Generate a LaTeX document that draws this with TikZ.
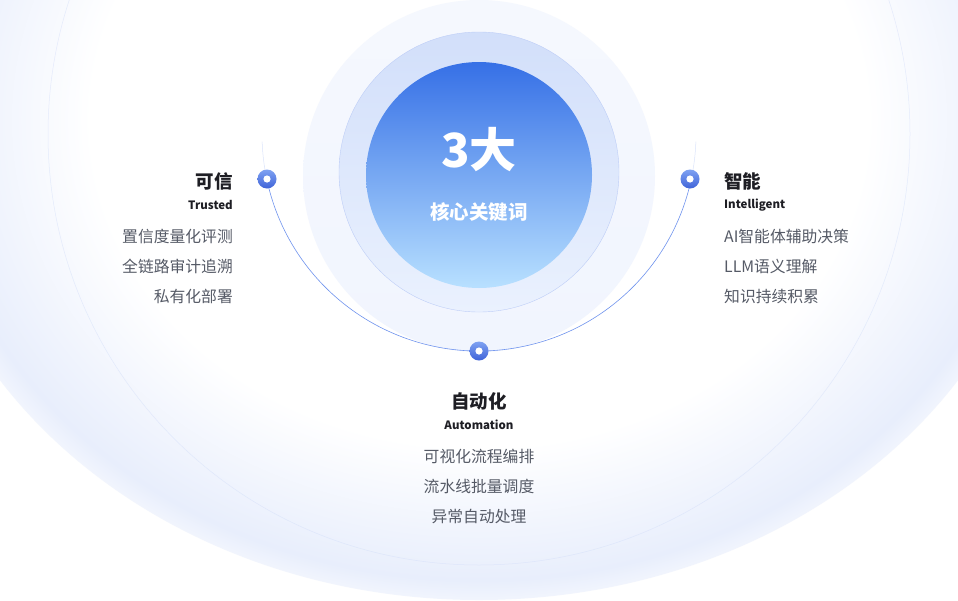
\documentclass[tikz,border=0pt]{standalone}
\usepackage{fontspec}
\setmainfont{Noto Sans CJK SC}
\usetikzlibrary{shadings}
\definecolor{glowblue}{HTML}{E8EEFC}
\definecolor{halo}{HTML}{F1F5FE}
\definecolor{ringtop}{HTML}{D2DFFA}
\definecolor{ringbot}{HTML}{EAF1FE}
\definecolor{coretop}{HTML}{3670E6}
\definecolor{corebot}{HTML}{B8E0FF}
\definecolor{arcblue}{HTML}{6F93EE}
\definecolor{dotblue}{HTML}{3F63D8}
\definecolor{dotlight}{HTML}{7FA2F2}
\definecolor{itemgray}{HTML}{555A66}
\definecolor{titleblack}{HTML}{1E1E24}
\pgfdeclareradialshading{glow}{\pgfpoint{0bp}{0bp}}{color(0bp)=(white); color(17bp)=(white); color(24bp)=(glowblue); color(25bp)=(glowblue!60!white); color(50bp)=(white)}
\tikzset{
  title/.style={font=\fontsize{18.5}{20}\selectfont\bfseries, text=titleblack, inner sep=0pt},
  sub/.style={font=\fontsize{11.5}{13}\selectfont\bfseries, text=titleblack, inner sep=0pt},
  item/.style={font=\fontsize{15.8}{17}\selectfont, text=itemgray, inner sep=0pt},
  dotring/.style={circle, minimum size=19pt, inner sep=0pt, top color=dotlight, bottom color=dotblue},
}
\newcommand{\mydot}[2]{%
  \node[dotring] (#1) at #2 {};
  \fill[white] (#1.center) circle (3.6pt);}
\begin{document}
\begin{tikzpicture}[x=1pt,y=-1pt]
\useasboundingbox (0,0) rectangle (958,600);
\fill[white] (0,0) rectangle (958,600);
\begin{scope}
\clip (0,0) rectangle (958,600);
\shade[shading=glow] (479,120) ellipse [x radius=570, y radius=480];
\draw[glowblue!80!arcblue, line width=0.5pt, opacity=0.5] (479,134) circle (431);
% halo
\shade[top color=halo!70!white, bottom color=halo] (479,176) circle (176);
\shade[top color=ringtop, bottom color=ringbot, draw=arcblue!45, line width=0.4pt] (479,172) circle (140);
\shade[top color=coretop, bottom color=corebot] (479,175) circle (113);
\end{scope}
\node[font=\fontsize{47}{48}\selectfont\bfseries, text=white] (big) at (479,150) {3大};
\node[font=\fontsize{19.5}{21}\selectfont\bfseries, text=white] (kw) at (479,212) {核心关键词};
% arc
\draw[arcblue, line width=0.6pt] (479,134) ++(168:217) arc[start angle=168, end angle=12, radius=217];
\draw[arcblue!25, line width=0.5pt] (479,134) ++(168:217) arc[start angle=168, end angle=178, radius=217];
\draw[arcblue!25, line width=0.5pt] (479,134) ++(12:217) arc[start angle=12, end angle=2, radius=217];
\mydot{dl}{(267,179)}
\mydot{dr}{(690,179)}
\mydot{db}{(479,351)}
% left
\node[title, anchor=east] (t1) at (233,181) {可信};
\node[sub, anchor=east] (s1) at (233,205) {Trusted};
\node[item, anchor=east] (a1) at (233,236) {置信度量化评测};
\node[item, anchor=east] (a2) at (233,266) {全链路审计追溯};
\node[item, anchor=east] (a3) at (233,296) {私有化部署};
% right
\node[title, anchor=west] (t2) at (724,181) {智能};
\node[sub, anchor=west] (s2) at (724,205) {Intelligent};
\node[item, anchor=west] (b1) at (724,236) {AI智能体辅助决策};
\node[item, anchor=west] (b2) at (724,266) {LLM语义理解};
\node[item, anchor=west] (b3) at (724,296) {知识持续积累};
% bottom
\node[title] (t3) at (479,401) {自动化};
\node[sub] (s3) at (479,425) {Automation};
\node[item] (c1) at (479,456) {可视化流程编排};
\node[item] (c2) at (479,486) {流水线批量调度};
\node[item] (c3) at (479,516) {异常自动处理};
\end{tikzpicture}
\end{document}
